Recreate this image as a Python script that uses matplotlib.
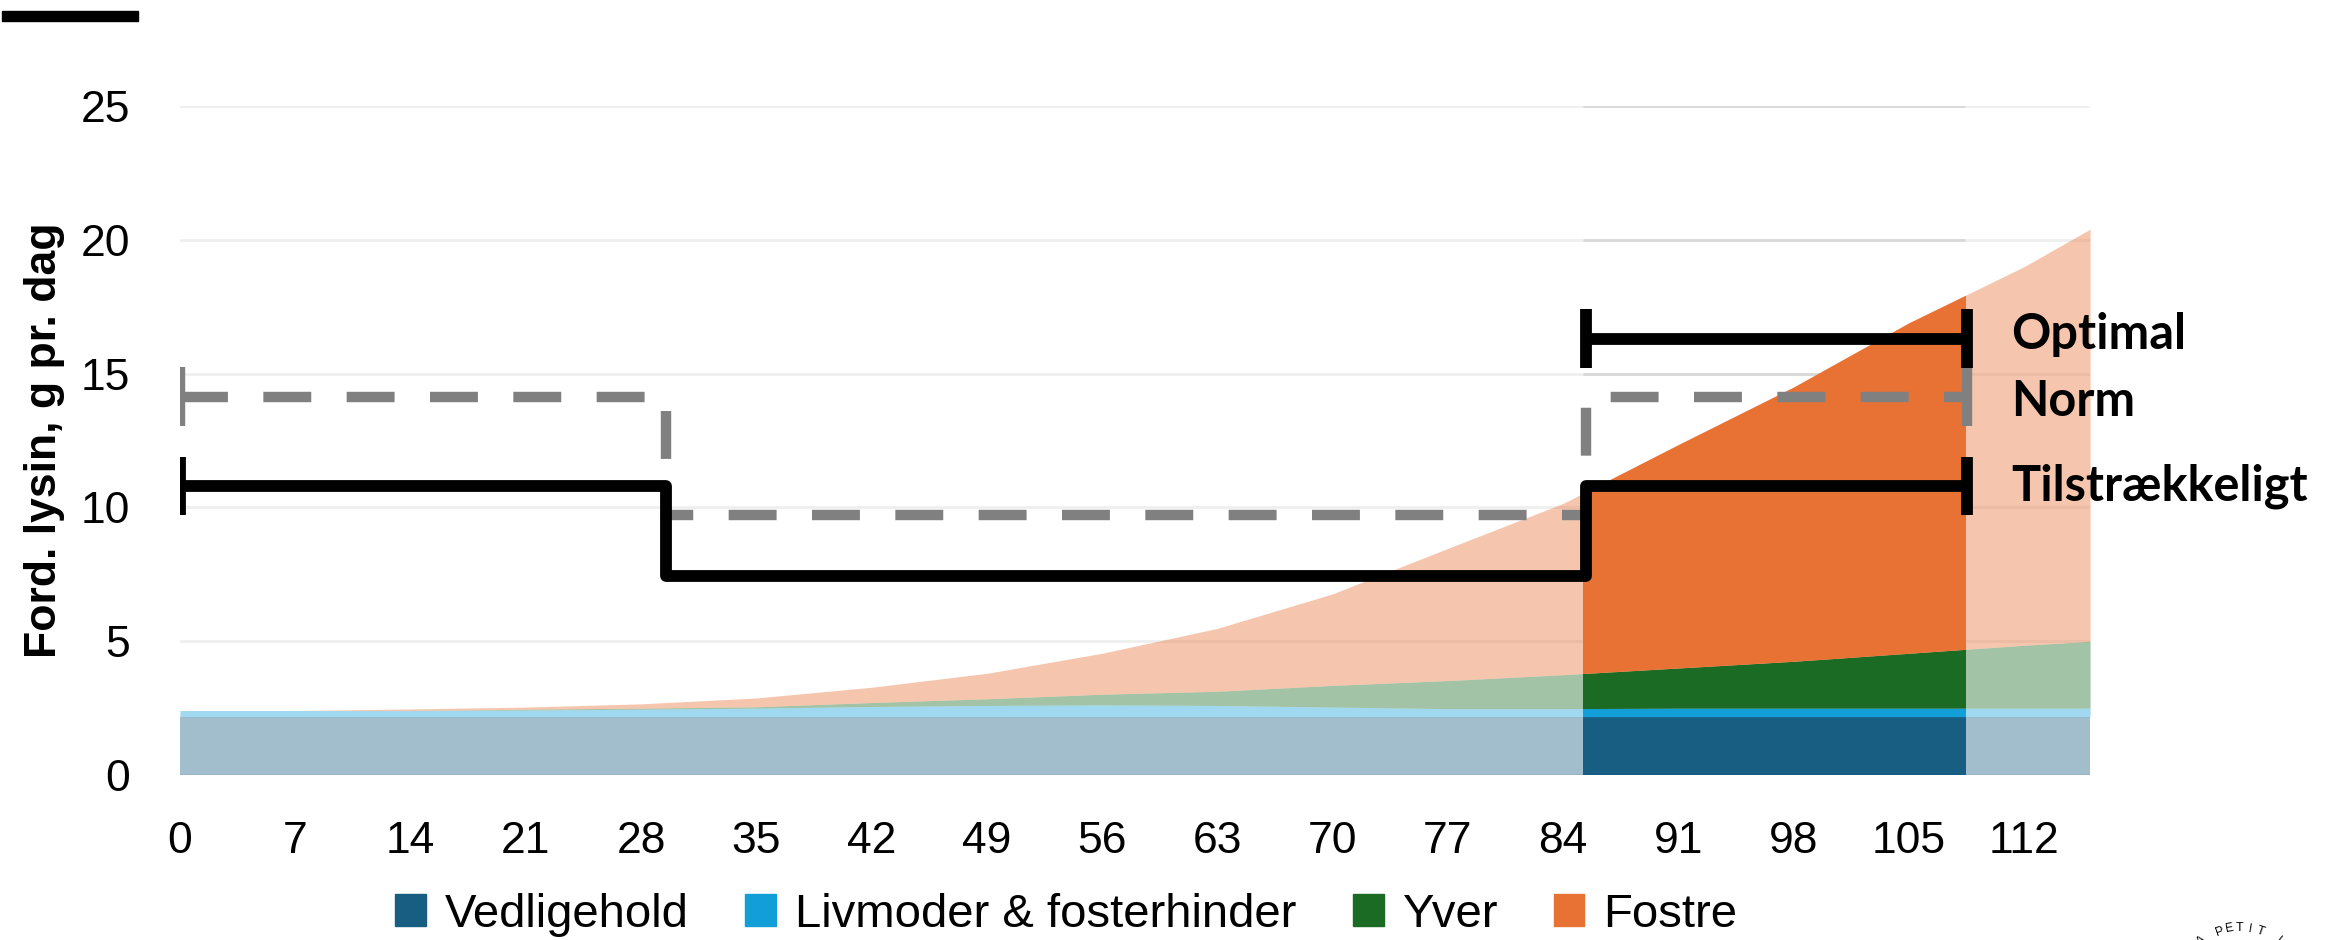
import numpy as np
import matplotlib.pyplot as plt
from matplotlib.patches import Patch, Rectangle

# days of gestation and lysine need per component (g per day)
days = [0, 7, 14, 21, 28, 35, 42, 49, 56, 63, 70, 77, 84, 91, 98, 105, 112, 116]
vedligehold = [2.18] * 18
livmoder = [0.23, 0.23, 0.23, 0.25, 0.28, 0.32, 0.38, 0.42, 0.44, 0.42, 0.36, 0.30,
            0.30, 0.32, 0.32, 0.32, 0.32, 0.32]
yver = [0.0, 0.0, 0.0, 0.03, 0.04, 0.05, 0.15, 0.25, 0.40, 0.53, 0.81, 1.05,
        1.27, 1.50, 1.75, 2.05, 2.35, 2.50]
fostre = [0.0, 0.0, 0.06, 0.08, 0.16, 0.33, 0.57, 0.95, 1.53, 2.35, 3.42, 4.94,
          6.40, 8.35, 10.25, 12.35, 14.15, 15.40]

series_names = ["Vedligehold", "Livmoder & fosterhinder", "Yver", "Fostre"]
series_colors = ["#175E82", "#129FD8", "#1B6B24", "#E87234"]

# highlighted period (late gestation)
hl_start = 85.2
hl_end = 108.4

# feeding levels (step lines)
step_edges = [0, 29.5, 85.4, 108.5]
tilstr = [10.8, 7.43, 10.8]
norm = [14.14, 9.7, 14.14]
optimal = 16.3
optimal_span = [85.4, 108.5]
level_labels = ["Optimal", "Norm", "Tilstrækkeligt"]
level_label_y = [16.45, 13.97, 10.8]

fig = plt.figure(figsize=(23.28, 9.4), dpi=100)
ax = fig.add_axes([0.0773, 0.1755, 0.8205, 0.7117])

# stacked areas, pale everywhere and full colour in the highlighted window
x = np.array(days)
stack = [np.array(vedligehold), np.array(livmoder), np.array(yver), np.array(fostre)]
base = np.zeros_like(x, dtype=float)
clip = Rectangle((hl_start, 0), hl_end - hl_start, 30, transform=ax.transData)
for vals, col in zip(stack, series_colors):
    top = base + vals
    ax.fill_between(x, base, top, color=col, alpha=0.4, lw=0, zorder=2)
    pc = ax.fill_between(x, base, top, color=col, lw=0, zorder=3)
    pc.set_clip_path(clip)
    base = top

# gridlines (a bit darker inside the highlighted window)
yticks = [0, 5, 10, 15, 20, 25]
for yt in yticks:
    ax.axhline(yt, color="#EFEFEF", lw=2, zorder=1)
    ax.hlines(yt, hl_start, hl_end, color="#D9D9D9", lw=2, zorder=1.5)

# Tilstrækkeligt (black) and Norm (grey dashed)
ax.stairs(tilstr, step_edges, baseline=None, color="black", lw=8.5, zorder=6,
          joinstyle="round")
ax.stairs(norm, step_edges, baseline=None, color="#808080", lw=7.5, zorder=5,
          linestyle=(0, (4.6, 3.4)))
ax.hlines(optimal, optimal_span[0], optimal_span[1], color="black", lw=8.5, zorder=6)

cap = 1.1
ax.vlines([0, step_edges[-1]], tilstr[0] - cap, tilstr[0] + cap, color="black", lw=8.5, zorder=6)
ax.vlines([0, step_edges[-1]], norm[0] - cap, norm[0] + cap, color="#808080", lw=7.5, zorder=5)
ax.vlines(optimal_span, optimal - cap, optimal + cap, color="black", lw=8.5, zorder=6)

for lab, yl in zip(level_labels, level_label_y):
    ax.text(111.2, yl, lab, fontsize=35, fontweight="bold", family="Lato",
            va="center", ha="left", zorder=7)

ax.set_xlim(0, 116)
ax.set_ylim(0, 25)
ax.set_xticks(range(0, 113, 7))
ax.set_yticks(yticks)
ax.tick_params(length=0, labelsize=32)
ax.tick_params(axis="x", pad=33)
ax.tick_params(axis="y", pad=36)
for lbl in ax.get_xticklabels() + ax.get_yticklabels():
    lbl.set_family("Liberation Sans")
for s in ax.spines.values():
    s.set_visible(False)

ax.set_ylabel("Ford. lysin, g pr. dag", fontsize=32, fontweight="bold",
              family="Liberation Sans")
ax.yaxis.set_label_coords(-0.06, 0.5)

handles = [Patch(color=c) for c in series_colors]
fig.legend(handles, series_names, loc="center", bbox_to_anchor=(0.458, 0.027),
           ncol=4, frameon=False, handlelength=0.65, handleheight=0.65,
           handletextpad=0.4, columnspacing=1.2,
           prop={"family": "Liberation Sans", "size": 34})

# decorative black bar top-left
fig.add_artist(Rectangle((0.001, 1 - 21 / 940), 136 / 2328, 10 / 940,
                         transform=fig.transFigure, color="black"))

# partial stamp in lower right corner
stamp = "A PETIT IN PRO"
cx, cy, r = 2240 / 2328, -50 / 940, 62
for i, ch in enumerate(stamp):
    ang = np.deg2rad(128 - i * 9.5)
    px = cx + r * np.cos(ang) / 2328
    py = cy + r * np.sin(ang) / 940
    fig.text(px, py, ch, fontsize=9, rotation=np.rad2deg(ang) - 90,
             ha="center", va="center", family="Liberation Sans")

fig.savefig("out.png", dpi=100)
